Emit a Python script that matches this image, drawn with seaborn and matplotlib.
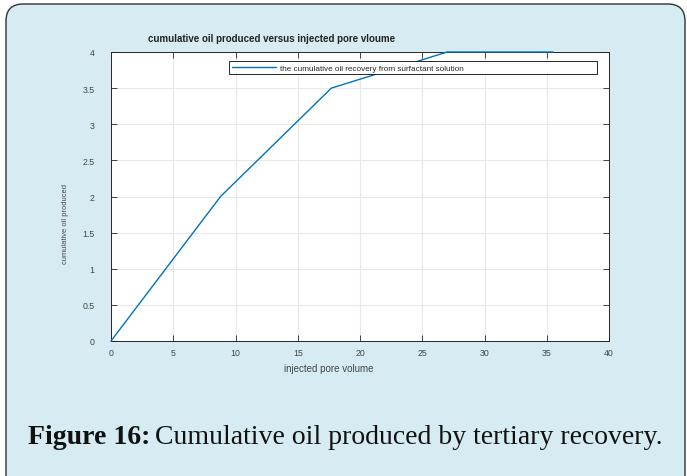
import matplotlib
matplotlib.use("Agg")
import matplotlib.pyplot as plt
from matplotlib.patches import FancyBboxPatch
import seaborn as sns
import pandas as pd

# Cumulative oil recovery data
injected_pv = [0, 8.8, 17.7, 27.0, 35.5]
cumulative_oil = [0, 2.0, 3.5, 4.0, 4.0]
x_ticks = [0, 5, 10, 15, 20, 25, 30, 35, 40]
y_ticks = [0, 0.5, 1, 1.5, 2, 2.5, 3, 3.5, 4]
y_tick_labels = ["0", "0.5", "1", "1.5", "2", "2.5", "3", "3.5", "4"]

df = pd.DataFrame({"pv": injected_pv, "oil": cumulative_oil})

sns.set_theme(style="white")
plt.rcParams["font.family"] = ["Liberation Sans", "DejaVu Sans"]

W, H = 687, 477
bg = "#d7ecf2"
fig = plt.figure(figsize=(W / 100, H / 100), dpi=100)
fig.patch.set_facecolor("white")

# Rounded panel behind the chart
panel = FancyBboxPatch((6 / W, -20 / H), (679 / W), (492 / H),
                       boxstyle="round,pad=0,rounding_size=0.025",
                       transform=fig.transFigure, facecolor=bg,
                       edgecolor="#333333", linewidth=1.0, zorder=-10,
                       mutation_aspect=W / H)
fig.patches.append(panel)

ax_w, ax_h = 498, 289
ax = fig.add_axes([111 / W, 1 - 342 / H, ax_w / W, ax_h / H])
ax.set_zorder(5)
ax.set_facecolor("white")

sns.lineplot(data=df, x="pv", y="oil", ax=ax, color="#0072bd", linewidth=1.0,
             label="the cumulative oil recovery from surfactant solution",
             clip_on=False, zorder=4)

ax.set_xlim(0, 40)
ax.set_ylim(0, 4)
ax.set_xticks(x_ticks)
ax.set_yticks(y_ticks)
ax.set_yticklabels(y_tick_labels)
ax.grid(True, color="#e8e8e8", linewidth=0.8)
ax.tick_params(axis="both", direction="in", length=4, width=0.6,
               labelsize=6.3, colors="#262626", labelcolor="#444444",
               top=True, right=True, bottom=True, left=True)
ax.tick_params(axis="x", pad=5)
ax.tick_params(axis="y", pad=12)
for s in ax.spines.values():
    s.set_color("#262626")
    s.set_linewidth(0.7)
    s.set_visible(True)

ax.set_xlabel("injected pore volume", fontsize=7, color="#444444")
ax.xaxis.set_label_coords((329 - 111) / ax_w, (342 - 364) / ax_h)
ax.set_ylabel("cumulative oil produced", fontsize=5.4, color="#444444")
ax.yaxis.set_label_coords((69 - 111) / ax_w, (342 - 224) / ax_h)

ax.text((272 - 111) / ax_w, (342 - 39) / ax_h,
        "cumulative oil produced versus injected pore vloume",
        transform=ax.transAxes, fontsize=7, fontweight="bold",
        color="#222222", ha="center", va="center")

leg = ax.legend(loc="upper left",
                bbox_to_anchor=(118 / ax_w, 1 - 26 / ax_h, 368 / ax_w, 17 / ax_h),
                mode="expand", fontsize=5.9, frameon=True, fancybox=False,
                framealpha=1, borderaxespad=0, handlelength=5.4,
                handletextpad=0.5, borderpad=0.35)
leg.get_frame().set_edgecolor("#262626")
leg.get_frame().set_linewidth(0.7)
leg.get_frame().set_facecolor("white")

# Caption
serif = ["Liberation Serif", "DejaVu Serif"]
cap_bold = fig.text(28 / W, 1 - 444 / H, "Figure 16:", fontsize=20,
                    fontweight="bold", family=serif,
                    color="#111111", va="baseline")
fig.canvas.draw()
bb = cap_bold.get_window_extent()
fig.text((bb.x1 + 5) / W, 1 - 444 / H, "Cumulative oil produced by tertiary recovery.",
         fontsize=20, family=serif, color="#111111", va="baseline")

fig.savefig("out.png", dpi=100, facecolor=fig.get_facecolor())
